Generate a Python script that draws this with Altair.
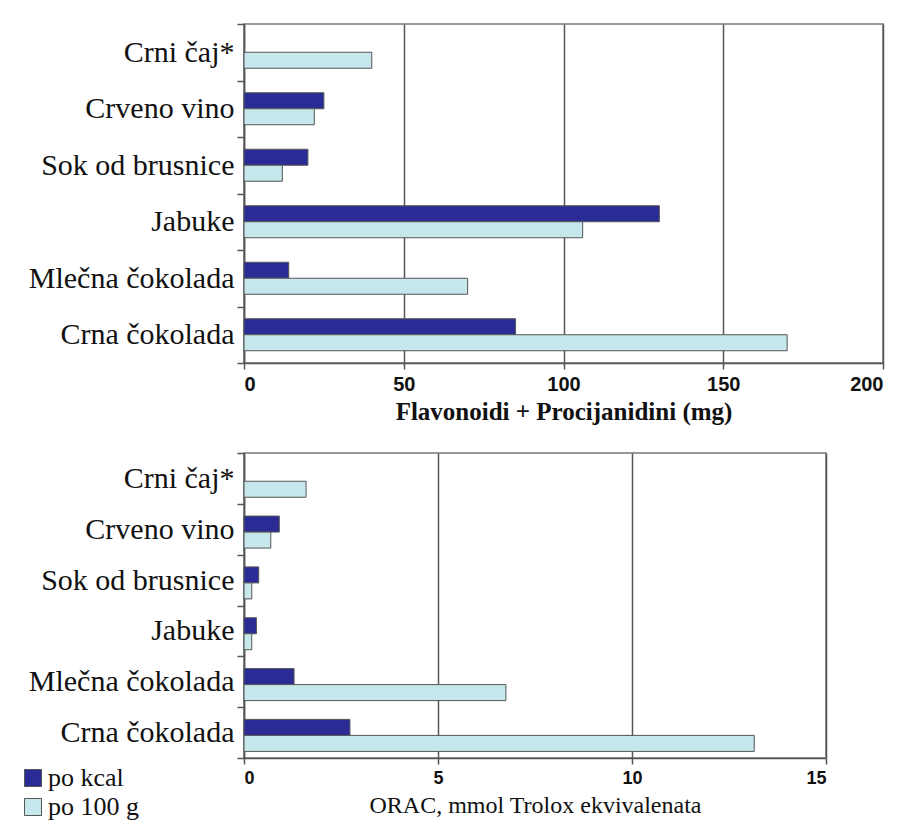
import altair as alt
import pandas as pd

categories = ["Crni čaj*", "Crveno vino", "Sok od brusnice", "Jabuke", "Mlečna čokolada", "Crna čokolada"]
series = ["po kcal", "po 100 g"]
colors = ["#2b2b96", "#c6e8ec"]

flav_kcal = [None, 25, 20, 130, 14, 85]
flav_100g = [40, 22, 12, 106, 70, 170]
orac_kcal = [None, 0.91, 0.38, 0.32, 1.29, 2.73]
orac_100g = [1.6, 0.69, 0.2, 0.2, 6.75, 13.15]

flav_ticks = [0, 50, 100, 150, 200]
orac_ticks = [0, 5, 10, 15]

SERIF = "Liberation Serif"
SANS = "Liberation Sans"


def make_df(kcal, g100):
    rows = []
    for c, a, b in zip(categories, kcal, g100):
        if a is not None:
            rows.append({"food": c, "series": series[0], "value": a})
        if b is not None:
            rows.append({"food": c, "series": series[1], "value": b})
    return pd.DataFrame(rows)


def panel(df, ticks, title, w, h, yopad, legend, title_weight, label_size,
          title_size, title_pad):
    return alt.Chart(df).mark_bar(stroke="#555555", strokeWidth=1).encode(
        x=alt.X("value:Q",
                scale=alt.Scale(domain=[ticks[0], ticks[-1]], nice=False, zero=True),
                axis=alt.Axis(values=ticks, title=title, grid=True, format="d",
                              titleFontWeight=title_weight, labelFontSize=label_size,
                              titleFontSize=title_size, titlePadding=title_pad)),
        y=alt.Y("food:N", sort=categories,
                scale=alt.Scale(paddingInner=0, paddingOuter=0),
                axis=alt.Axis(title=None, tickBand="extent", grid=False)),
        yOffset=alt.YOffset("series:N", sort=series,
                            scale=alt.Scale(paddingInner=0, paddingOuter=yopad)),
        color=alt.Color("series:N", sort=series,
                        scale=alt.Scale(domain=series, range=colors),
                        legend=legend),
    ).properties(width=w, height=h)


legend = alt.Legend(title=None, orient="none", legendX=-224, legendY=312,
                    symbolType="square", symbolSize=290, symbolStrokeColor="#555555",
                    symbolStrokeWidth=1, symbolOpacity=1,
                    labelFont=SERIF, labelFontSize=26, labelColor="#111111",
                    rowPadding=3, labelOffset=2)

top = panel(make_df(flav_kcal, flav_100g), flav_ticks,
            "Flavonoidi + Procijanidini (mg)", 639, 339, 0.766, None, "bold", 20, 25, 5)

bottom = panel(make_df(orac_kcal, orac_100g), orac_ticks,
               "ORAC, mmol Trolox ekvivalenata", 582, 305, 0.69, legend, "normal", 18, 24, 6)

chart = alt.concat(top, bottom, columns=1, spacing=90, bounds="flush", align="each").resolve_legend(
    color="independent"
).resolve_scale(
    color="independent"
).properties(
    padding={"left": 11, "top": 0, "right": 5, "bottom": 0}
).configure_view(
    stroke="#777777", strokeWidth=1.5
).configure_axisX(
    labelFont=SANS, labelFontWeight="bold", labelColor="#111111",
    tickSize=6, tickColor="#555555", tickWidth=1.5, domainColor="#555555", domainWidth=1.5,
    gridColor="#555555", gridWidth=1.5, gridOpacity=1, labelPadding=5,
    titleFont=SERIF, titleColor="#111111"
).configure_axisY(
    labelFont=SERIF, labelFontSize=30, labelColor="#111111", labelPadding=3, labelLimit=400,
    tickSize=7, tickColor="#555555", tickWidth=1.5, domainColor="#555555", domainWidth=1.5
)

chart.save("out.html", embed_options={"renderer": "svg", "actions": False})
